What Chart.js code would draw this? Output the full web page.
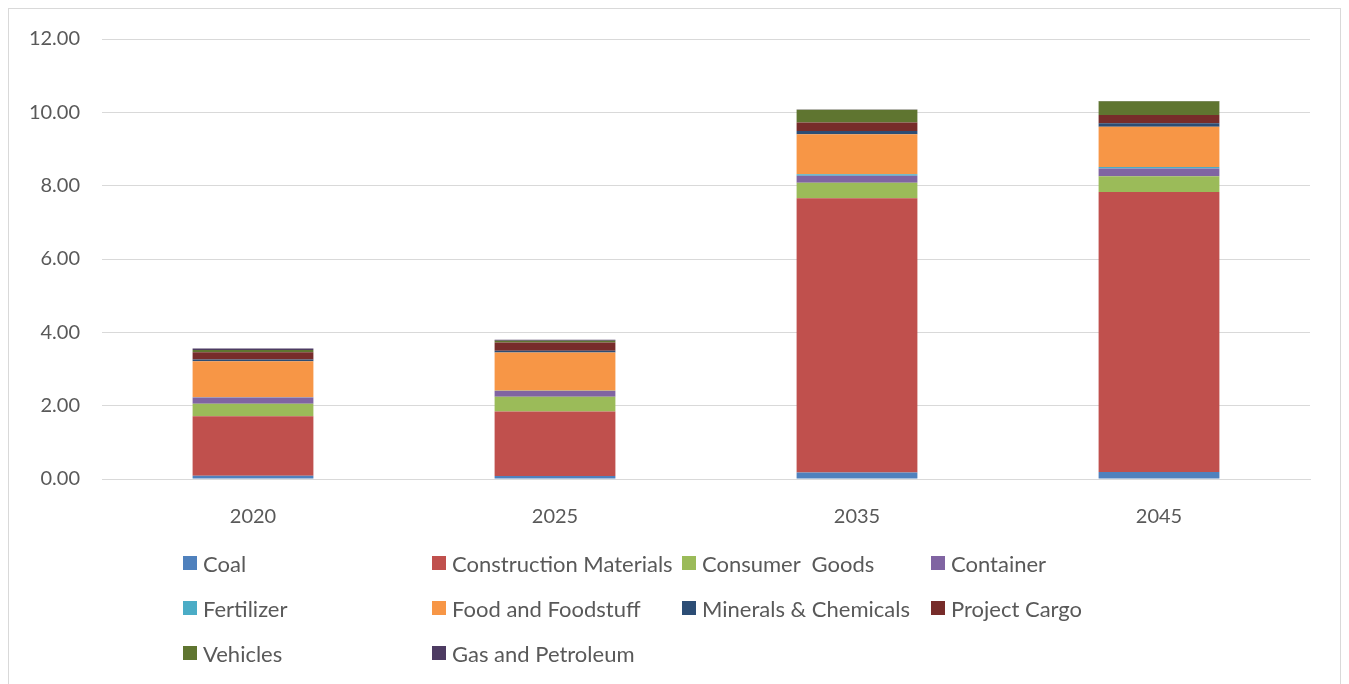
<!DOCTYPE html>
<html>
<head>
<meta charset="utf-8">
<script src="https://cdn.jsdelivr.net/npm/chart.js@4.4.0/dist/chart.umd.min.js"></script>
<style>
  body { margin: 0; background: #fff; font-family: Lato, "Open Sans", sans-serif; }
  #frame { position: absolute; left: 8px; top: 8px; width: 1331px; height: 700px; border: 1px solid #d9d9d9; }
  #wrap { position: absolute; left: 0; top: 5px; width: 1349px; height: 557px; }
  #leyenda { position: absolute; left: 183px; top: 551px; display: grid;
    grid-template-columns: 249px 250px 249px 250px; grid-auto-rows: 45px; }
  #leyenda div { display: flex; align-items: center; height: 24px; font-size: 22px; color: #595959; white-space: pre; }
  #leyenda span { display: inline-block; width: 14px; height: 14px; margin-right: 6px; }
</style>
</head>
<body>
<div id="frame"></div>
<div id="wrap"><canvas id="grafico"></canvas></div>
<div id="leyenda"></div>
<script>
// datos
const anios = ['2020', '2025', '2035', '2045'];
const series = ['Coal', 'Construction Materials', 'Consumer  Goods', 'Container', 'Fertilizer',
  'Food and Foodstuff', 'Minerals & Chemicals', 'Project Cargo', 'Vehicles', 'Gas and Petroleum'];
const coal = [0.09, 0.08, 0.18, 0.19];
const construction = [1.62, 1.76, 7.48, 7.64];
const consumer = [0.34, 0.40, 0.42, 0.43];
const container = [0.17, 0.16, 0.19, 0.21];
const fertilizer = [0.01, 0.01, 0.04, 0.04];
const food = [0.98, 1.04, 1.09, 1.10];
const minerals = [0.05, 0.05, 0.09, 0.09];
const projectCargo = [0.20, 0.22, 0.23, 0.23];
const vehicles = [0.06, 0.05, 0.35, 0.37];
const gas = [0.04, 0.03, 0.01, 0.01];
const yTicks = [0, 2, 4, 6, 8, 10, 12];

const colores = ['#4f81bd', '#c0504d', '#9bbb59', '#8064a2', '#4bacc6',
  '#f79646', '#2c4d75', '#772c2a', '#5f7530', '#4d3b62'];
const valores = [coal, construction, consumer, container, fertilizer, food, minerals, projectCargo, vehicles, gas];

const ctx = document.getElementById('grafico');

let chart = new Chart(ctx, {
    type: 'bar',
    data: {
        labels: anios,
        datasets: series.map((s, i) => ({
            label: s,
            data: valores[i],
            backgroundColor: colores[i],
            borderWidth: 0,
            categoryPercentage: 1,
            barPercentage: 0.4
        }))
    },
    options: {
        responsive: true,
        maintainAspectRatio: false,
        animation: false,
        layout: { padding: { left: 0, right: 39, top: 32, bottom: 15 } },
        plugins: { legend: { display: false }, tooltip: { enabled: false } },
        scales: {
            x: {
                stacked: true,
                grid: { display: false },
                border: { color: '#d9d9d9' },
                ticks: { color: '#595959', font: { size: 20, family: 'Lato' }, padding: 18 }
            },
            y: {
                stacked: true,
                min: 0,
                max: 12,
                afterFit: s => { s.width = 102; },
                afterBuildTicks: s => { s.ticks = yTicks.map(v => ({ value: v })); },
                grid: { color: '#d9d9d9', drawTicks: false },
                border: { display: false },
                ticks: { color: '#595959', font: { size: 20, family: 'Lato' }, padding: 22,
                    callback: v => v.toFixed(2) }
            }
        }
    }
});

// leyenda
const leyenda = document.getElementById('leyenda');
series.forEach((s, i) => {
    const d = document.createElement('div');
    d.innerHTML = '<span style="background:' + colores[i] + '"></span>';
    d.appendChild(document.createTextNode(s));
    leyenda.appendChild(d);
});
</script>
</body>
</html>
